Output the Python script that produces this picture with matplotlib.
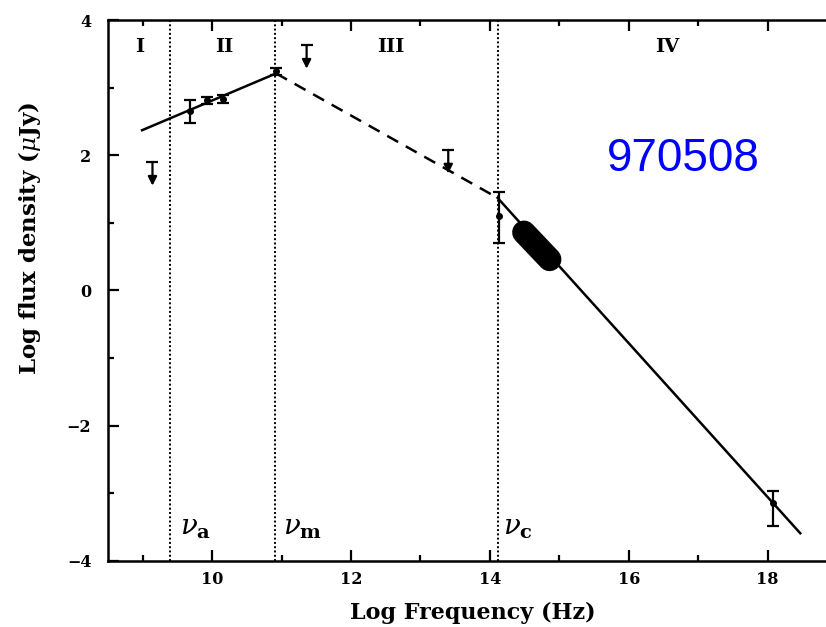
import matplotlib
matplotlib.use("Agg")
import matplotlib.pyplot as plt

# model spectrum break points (log nu, log flux)
rise_x = [8.99, 10.92]
rise_y = [2.37, 3.21]
mid_x = [10.92, 14.11]
mid_y = [3.21, 1.37]
fall_x = [14.11, 18.47]
fall_y = [1.37, -3.59]

# detections with error bars
pt_x = [9.68, 9.92, 10.16, 10.92, 14.13, 18.08]
pt_y = [2.66, 2.81, 2.83, 3.24, 1.10, -3.15]
pt_lo = [0.19, 0.05, 0.06, 0.05, 0.40, 0.34]
pt_hi = [0.15, 0.05, 0.06, 0.05, 0.35, 0.19]

# upper limits (top of the bar)
ul_x = [9.14, 11.36, 13.40]
ul_y = [1.90, 3.63, 2.08]

# optical band (thick segment)
band_x = [14.49, 14.86]
band_y = [0.86, 0.46]

# break frequencies
breaks = [9.39, 10.90, 14.11]
break_labels = [r"$\nu_{\mathbf{a}}$", r"$\nu_{\mathbf{m}}$", r"$\nu_{\mathbf{c}}$"]
break_label_x = [9.76, 11.30, 14.40]

regions = ["I", "II", "III", "IV"]
region_x = [8.95, 10.18, 12.57, 16.55]

plt.rcParams["mathtext.fontset"] = "dejavuserif"

fig = plt.figure(figsize=(8.26, 6.27), dpi=100)
ax = fig.add_axes([0.1308, 0.1053, 0.8826, 0.8628])
ax.set_xlim(8.5, 19.0)
ax.set_ylim(-4, 4)

serif = "DejaVu Serif"
lw = 1.8

ax.plot(rise_x, rise_y, color="black", lw=lw)
ax.plot(mid_x, mid_y, color="black", lw=lw, dashes=(5, 3.5))
ax.plot(fall_x, fall_y, color="black", lw=lw)
ax.plot(band_x, band_y, color="black", lw=17, solid_capstyle="round")

ax.errorbar(pt_x, pt_y, yerr=[pt_lo, pt_hi], fmt="o", ms=4, color="black",
            elinewidth=1.6, capsize=4.5, capthick=1.6)

for x, y in zip(ul_x, ul_y):
    ax.plot([x], [y], marker="_", ms=9, mew=1.6, color="black")
    ax.annotate("", xy=(x, y - 0.35), xytext=(x, y),
                arrowprops=dict(arrowstyle="-|>", color="black", lw=1.6,
                                mutation_scale=13, shrinkA=0, shrinkB=0))

for b in breaks:
    ax.axvline(b, color="black", lw=1.4, ls=(0, (1, 1.2)))

for lab, x in zip(break_labels, break_label_x):
    ax.text(x, -3.5, lab, fontsize=20, ha="center", va="center")

for lab, x in zip(regions, region_x):
    ax.text(x, 3.6, lab, fontsize=14, ha="center", va="center",
            family=serif, fontweight="bold")

ax.text(16.78, 1.95, "970508", color="#0000ff", fontsize=33,
        ha="center", va="center", family="Liberation Sans")

ax.set_xticks([10, 12, 14, 16, 18])
ax.set_xticks([9, 11, 13, 15, 17], minor=True)
ax.set_yticks([-4, -2, 0, 2, 4])
ax.set_yticks([-3, -1, 1, 3], minor=True)
ax.tick_params(which="both", direction="in", top=True, right=True, width=1.6)
ax.tick_params(which="major", length=8, labelsize=11.5)
ax.tick_params(axis="x", which="major", pad=7)
ax.tick_params(axis="y", which="major", pad=12)
ax.tick_params(which="minor", length=4)
for lab in ax.get_xticklabels() + ax.get_yticklabels():
    lab.set_family(serif)
    lab.set_fontweight("bold")
for s in ax.spines.values():
    s.set_linewidth(1.8)

ax.set_xlabel("Log Frequency (Hz)", family=serif, fontweight="bold",
              fontsize=16, labelpad=10)
ax.set_ylabel(r"Log flux density ($\mu$Jy)", family=serif, fontweight="bold",
              fontsize=16.5)
ax.yaxis.set_label_coords(-0.089, 0.597)

fig.savefig("out.png", dpi=100)
